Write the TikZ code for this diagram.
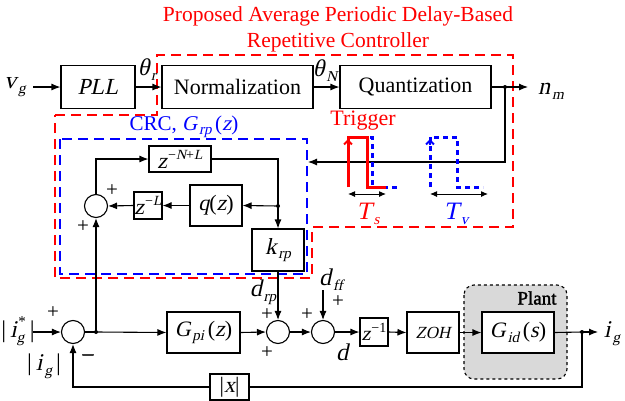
\documentclass[tikz,border=0pt]{standalone}
\usepackage{fontspec}
\newfontfamily\rmf{Liberation Serif}
\newfontfamily\itf{Liberation Serif}[FakeSlant=0.22]
\newfontfamily\bff{Liberation Serif}[FakeBold=1.6]
\usetikzlibrary{arrows.meta,calc}
\definecolor{myred}{RGB}{255,0,0}
\definecolor{myblue}{RGB}{0,0,255}
\definecolor{plantgray}{RGB}{217,217,217}
\newcommand{\vi}[1]{{\itf #1}}
\newcommand{\sbs}[1]{\kern0.08em\raisebox{-0.45ex}{\fontsize{15}{15}\selectfont\itf #1}}
\newcommand{\sps}[1]{\kern0.05em\raisebox{0.9ex}{\fontsize{14}{14}\selectfont #1}}
\begin{document}
\begin{tikzpicture}[x=1pt,y=-1pt,
  >={Latex[length=9pt,width=7pt]},
  line width=1.1pt,
  font=\rmf\fontsize{22}{26}\selectfont,
  blk/.style={draw, line width=1.1pt, inner sep=0pt, fill=white},
  sumc/.style={draw, circle, line width=1.1pt, minimum size=23pt, inner sep=0pt},
  lbl/.style={inner sep=0pt},
  big/.style={font=\rmf\fontsize{24}{26}\selectfont},
  pl/.style={inner sep=0pt, font=\rmf\fontsize{21}{21}\selectfont},
  reddash/.style={draw=myred, line width=2pt, dash pattern=on 10pt off 6pt},
  bluedash/.style={draw=myblue, line width=2pt, dash pattern=on 10pt off 6pt},
  redpulse/.style={draw=myred, line width=3pt},
  bluepulse/.style={draw=myblue, line width=3pt, dash pattern=on 5pt off 4pt},
  dotn/.style={circle, fill, inner sep=0pt, minimum size=4pt}
]
\useasboundingbox (0,0) rectangle (625,400);

% title
\node[lbl, text=myred, align=center, font=\rmf\fontsize{21.5}{26}\selectfont] (title) at (338,29)
  {Proposed Average Periodic Delay-Based\\Repetitive Controller};

% outlines
\draw[reddash] (55,115) -- (157,115) -- (157,55) -- (513,55) -- (513,227) -- (312,227) -- (312,278) -- (55,278) -- cycle;
\draw[bluedash] (60,139) rectangle (307,274);
\node[lbl, text=myblue, font=\rmf\fontsize{21}{24}\selectfont] (crclbl) at (184,127) {CRC, \vi{G}\sbs{rp}\,(\vi{z})};

% plant
\draw[fill=plantgray, dashed, line width=1.1pt, rounded corners=10pt] (464,285) rectangle (567,379);
\node[lbl, font=\bff\fontsize{19}{20}\selectfont] (plantlbl) at (537,298) {Plant};

% top row
\node[lbl, big] (vg) at (15,87) {\vi{v}\sbs{g}};
\coordinate (vgs) at (33,87);
\node[blk, minimum width=74pt, minimum height=43pt, font=\rmf\fontsize{23}{26}\selectfont] (pll) at (98,87) {\vi{PLL}};
\node[blk, minimum width=151pt, minimum height=43pt] (norm) at (237.5,87) {Normalization};
\node[blk, minimum width=151pt, minimum height=43pt] (quant) at (415.5,87) {Quantization};
\node[lbl, big] (thr) at (147,70) {\vi{θ}\sbs{r}};
\node[lbl, big] (thn) at (325,71) {\vi{θ}\sbs{N}};
\node[dotn] (qdot) at (505,87) {};
\coordinate (nme) at (528,87);
\node[lbl, big] (nm) at (551,91) {\vi{n}\sbs{m}};
\coordinate (fbend) at (308,162);
\draw[->] (vgs) -- (pll.west);
\draw[->] (pll.east) -- (norm.west);
\draw[->] (norm.east) -- (quant.west);
\draw[->] (quant.east) -- (nme);
\draw[->] (qdot.center) |- (fbend);

% trigger
\node[lbl, text=myred, font=\rmf\fontsize{22}{24}\selectfont] (trig) at (363,121) {Trigger};
\draw[bluepulse] (348,187) -- (348,137) -- (372,137) -- (372,187) -- (400,187);
\draw[bluepulse] (430,187) -- (430,137) -- (457,137) -- (457,187) -- (483,187);
\draw[myblue, line width=2pt, -{Straight Barb[length=4pt,width=8pt]}] (430,145) -- (430,139);
\draw[redpulse] (348,187) -- (348,137) -- (367,137) -- (367,187) -- (386,187);
\draw[myred, line width=2pt, -{Straight Barb[length=4pt,width=8pt]}] (348,145) -- (348,139);
\coordinate (ts1) at (348,194); \coordinate (ts2) at (386,194);
\coordinate (tv1) at (430,194); \coordinate (tv2) at (488,194);
\draw[{Latex[length=7pt,width=6pt]}-{Latex[length=7pt,width=6pt]}, line width=1pt] (ts1) -- (ts2);
\draw[{Latex[length=7pt,width=6pt]}-{Latex[length=7pt,width=6pt]}, line width=1pt] (tv1) -- (tv2);
\node[lbl, text=myred, font=\rmf\fontsize{25}{26}\selectfont] (tsl) at (368,214) {\vi{T}\sbs{s}};
\node[lbl, text=myblue, font=\rmf\fontsize{25}{26}\selectfont] (tvl) at (456,214) {\vi{T}\sbs{v}};

% CRC internals
\node[blk, minimum width=62pt, minimum height=26pt] (znl) at (180,159) {\vi{z}\sps{−\vi{N}+\vi{L}}};
\node[sumc] (sa) at (96,206) {};
\node[blk, minimum width=28pt, minimum height=27pt] (zl) at (148,205.5) {\vi{z}\sps{−\vi{L}}};
\node[blk, minimum width=52pt, minimum height=41pt, font=\rmf\fontsize{22}{24}\selectfont] (qz) at (216,205.5) {\vi{q}(\vi{z})};
\node[dotn] (cdot) at (278,206) {};
\node[blk, minimum width=52pt, minimum height=42pt, font=\rmf\fontsize{23}{24}\selectfont] (krp) at (278,250) {\vi{k}\sbs{rp}};
\node[pl] (pa1) at (112,191) {+};
\node[pl] (pa2) at (83,227) {+};
\draw[->] (znl.east) -| (krp.north);
\draw[->] (cdot.center) -- (qz.east);
\draw[->] (qz.west) -- (zl.east);
\draw[->] (zl.west) -- (sa.east);
\draw[->] (sa.north) |- (znl.west);

% main row
\node[lbl, big] (igs) at (18,331) {|\,\vi{i}\raisebox{-0.45ex}{\fontsize{15}{15}\selectfont\itf g}\kern-0.25em\raisebox{1.0ex}{\fontsize{15}{15}\selectfont *}\,|};
\coordinate (igss) at (33,332);
\node[sumc] (s1) at (73,332) {};
\node[dotn] (bdot) at (96,332) {};
\node[blk, minimum width=73pt, minimum height=41pt, font=\rmf\fontsize{22}{24}\selectfont] (gpi) at (203.5,332.5) {\vi{G}\sbs{pi}\,(\vi{z})};
\node[sumc] (s2) at (278,332) {};
\node[sumc] (s3) at (323,332) {};
\node[blk, minimum width=28pt, minimum height=28pt, font=\rmf\fontsize{20}{24}\selectfont] (zm1) at (374,332) {\vi{z}\sps{−1}};
\node[blk, minimum width=52pt, minimum height=41pt, font=\rmf\fontsize{17}{20}\selectfont] (zoh) at (433,332.5) {\vi{ZOH}};
\node[blk, minimum width=72pt, minimum height=41pt, font=\rmf\fontsize{22}{24}\selectfont] (gid) at (518,332.5) {\vi{G}\sbs{id}\,(\vi{s})};
\node[dotn] (odot) at (582,332) {};
\coordinate (ige) at (598,332);
\node[lbl, big] (ig) at (612,334) {\vi{i}\sbs{g}};
\node[blk, minimum width=39pt, minimum height=26pt, font=\rmf\fontsize{22}{24}\selectfont] (absx) at (229.5,387) {|\vi{x}|};
\node[lbl, big] (igm) at (44,366) {|\,\vi{i}\sbs{g}\,|};

\node[pl] (p1) at (53,313) {+};
\node[lbl, font=\bff\fontsize{21}{21}\selectfont] (m1) at (88,357) {–};
\node[pl] (p2a) at (267,315) {+};
\node[pl] (p2b) at (267,353) {+};
\node[pl] (p3a) at (307,315) {+};
\node[pl] (p3b) at (338,302) {+};
\node[lbl, big] (drp) at (263,292) {\vi{d}\sbs{rp}};
\node[lbl, big] (dff) at (331,280) {\vi{d}\sbs{ff}};
\coordinate (dffs) at (323,290);
\node[lbl, big] (dl) at (342,352) {\vi{d}};

\draw[->] (igss) -- (s1.west);
\draw (s1.east) -- (bdot.center);
\draw[->] (bdot.center) -- (gpi.west);
\draw[->] (bdot.center) -- (sa.south);
\draw[->] (gpi.east) -- (s2.west);
\draw[->] (krp.south) -- (s2.north);
\draw[->] (s2.east) -- (s3.west);
\draw[->] (dffs) -- (s3.north);
\draw[->] (s3.east) -- (zm1.west);
\draw[->] (zm1.east) -- (zoh.west);
\draw[->] (zoh.east) -- (gid.west);
\draw (gid.east) -- (odot.center);
\draw[->] (odot.center) -- (ige);
\draw (odot.center) |- (absx.east);
\draw[->] (absx.west) -| (s1.south);
\end{tikzpicture}
\end{document}
